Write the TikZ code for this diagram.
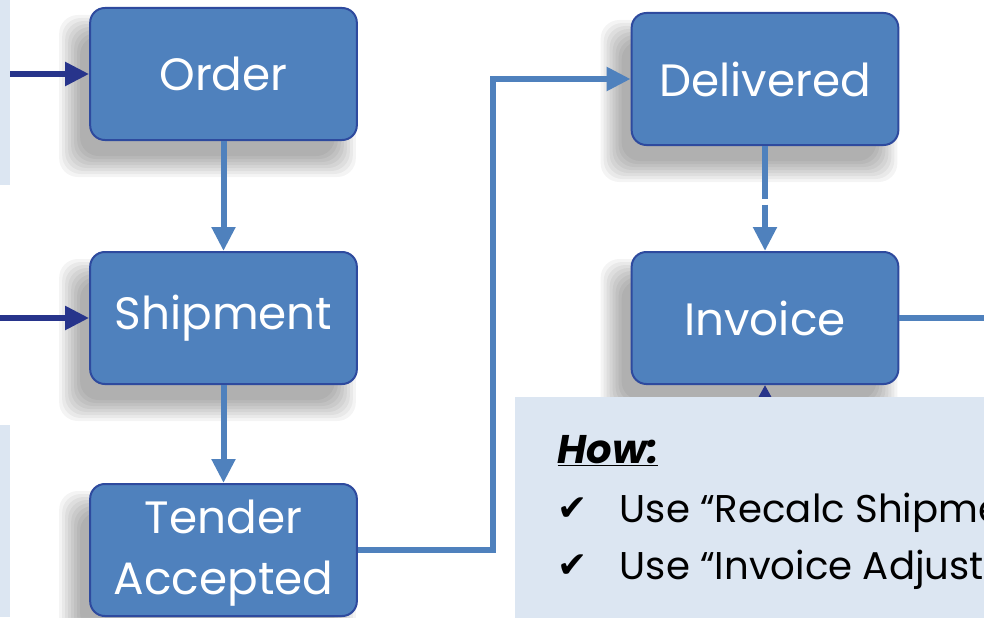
\documentclass[tikz,border=0pt]{standalone}
\usepackage{fontspec}
\setmainfont{Poppins}
\newfontfamily\symfont{DejaVu Sans}
\usetikzlibrary{arrows.meta}
\pgfdeclarelayer{background}
\pgfsetlayers{background,main}
\definecolor{boxblue}{HTML}{4F81BD}
\definecolor{boxedge}{HTML}{2E4A9E}
\definecolor{lineblue}{HTML}{4F81BD}
\definecolor{navy}{HTML}{27348B}
\definecolor{panel}{HTML}{DCE6F2}
\newcommand\softshade[1]{%
  \foreach \e in {14,11,8,5,2,-1,-4,-7}{%
    \fill[black, opacity=0.042, rounded corners=14pt]
      ([shift={(-16-\e,22-\e)}]#1.north west) rectangle ([shift={(-16+\e,22+\e)}]#1.south east);}}
\begin{document}
\begin{tikzpicture}[x=0.75pt,y=-0.75pt,
  flowbox/.style={rectangle, rounded corners=11pt, fill=boxblue, draw=boxedge, line width=1.5pt,
    minimum width=200pt, minimum height=99pt, text=white, align=center,
    font=\fontsize{34}{46}\selectfont},
  flow/.style={draw=lineblue, line width=4.5pt, line join=miter, -{Triangle[length=18pt,width=17pt]}},
  navyflow/.style={draw=navy, line width=4.5pt, -{Triangle[length=18pt,width=17pt]}},
  body/.style={anchor=base west, text=black, font=\fontsize{29}{40}\selectfont},
  tick/.style={anchor=base west, text=black, font=\fontsize{27}{40}\selectfont\symfont}]
\useasboundingbox (0,0) rectangle (984,617);
\clip (0,0) rectangle (984,617);

\node[flowbox] (order) at (223.5,74) {Order};
\node[flowbox] (ship) at (223.5,318) {Shipment};
\node[flowbox] (tender) at (223.5,550) {\rule{0pt}{30pt}Tender\\Accepted};
\node[flowbox] (deliv) at (765,79) {Delivered};
\node[flowbox] (inv) at (765,318) {Invoice};

\begin{pgfonlayer}{background}
\fill[white] (0,0) rectangle (984,617);
\fill[panel] (0,0) rectangle (10,185);
\fill[panel] (0,425) rectangle (10,617);
\softshade{order}
\softshade{ship}
\softshade{tender}
\softshade{deliv}
\softshade{inv}
\end{pgfonlayer}

\coordinate (inA) at (10,74);
\coordinate (inB) at (0,318);
\coordinate (bend) at (493,300);
\coordinate (exitR) at (990,318);
\coordinate (callTip) at (765,440);

\draw[navyflow] (inA) -- (order.west);
\draw[navyflow] (inB) -- (ship.west);
\draw[flow] (order) -- (ship);
\draw[flow] (ship) -- (tender);
\draw[flow] (tender.east) -| (bend) |- (deliv.west);
\draw[flow, dash pattern=on 40pt off 4pt] (deliv) -- (inv);
\draw[lineblue, line width=4.5pt] (inv.east) -- (exitR);
\draw[navy, line width=3pt, -{Triangle[length=10pt,width=10pt]}] (callTip) -- (inv.south);

\node[fill=panel, anchor=north west, minimum width=360pt, minimum height=170pt] (callout) at (515,397) {};
\node[body, font=\fontsize{30}{40}\selectfont\bfseries\itshape] (how) at (553,463) {\underline{How:}};
\node[tick] (chk1) at (553,520) {✔};
\node[body] (t1) at (615,522) {Use “Recalc Shipme};
\node[tick] (chk2) at (553,577) {✔};
\node[body] (t2) at (615,579) {Use “Invoice Adjust};
\end{tikzpicture}
\end{document}
